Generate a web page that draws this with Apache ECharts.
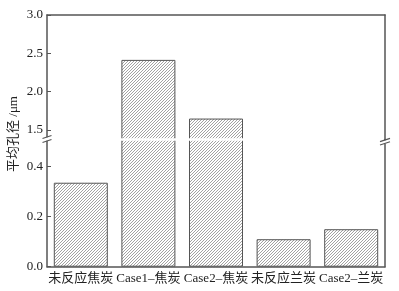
<!DOCTYPE html>
<html>
<head>
<meta charset="utf-8">
<script src="https://cdn.jsdelivr.net/npm/echarts@6/dist/echarts.min.js"></script>
<style>
	html, body { margin: 0; padding: 0; background: #fff; }
	#main { width: 399px; height: 291px; }
</style>
</head>
<body>
<div id="main"></div>
<script>
	// data
	var categories = ['未反应焦炭', 'Case1–焦炭', 'Case2–焦炭', '未反应兰炭', 'Case2–兰炭'];
	var poreSize = [0.336, 2.415, 1.65, 0.11, 0.15];
	var upperTicks = [1.5, 2.0, 2.5, 3.0];
	var lowerTicks = [0, 0.2, 0.4];
	var lowerMax = 0.509;   // top of the lower panel
	var upperMin = 1.377;   // bottom of the upper panel

	var font = '"Liberation Serif", "Noto Sans CJK SC", serif';
	var axisColor = '#555';

	// diagonal hatch tile
	function hatch() {
		var n = 3;
		var c = document.createElement('canvas');
		c.width = n; c.height = n;
		var ctx = c.getContext('2d');
		ctx.fillStyle = '#fff';
		ctx.fillRect(0, 0, n, n);
		ctx.fillStyle = '#a2a2a2';
		for (var i = 0; i < n; i++) {
			ctx.fillRect(i, n - 1 - i, 1, 1);
		}
		return c;
	}
	var pattern = { image: hatch(), repeat: 'repeat' };

	var upperData = poreSize.map(function (v) { return v > lowerMax ? v : '-'; });

	function valueAxis(grid, min, max, ticks) {
		return {
			type: 'value',
			gridIndex: grid,
			min: min,
			max: max,
			splitLine: { show: false },
			axisLine: { show: true, lineStyle: { color: axisColor, width: 1.5 } },
			axisTick: { show: true, inside: true, length: 4, customValues: ticks, lineStyle: { color: axisColor } },
			axisLabel: {
				customValues: ticks,
				color: '#222',
				fontSize: 13,
				fontFamily: font,
				margin: 4,
				formatter: function (v) { return v.toFixed(1); }
			}
		};
	}
	function sideAxis(grid, min, max) {
		return {
			type: 'value',
			gridIndex: grid,
			position: 'right',
			min: min,
			max: max,
			splitLine: { show: false },
			axisLine: { show: true, lineStyle: { color: axisColor, width: 1.5 } },
			axisTick: { show: false },
			axisLabel: { show: false }
		};
	}

	var myChart = echarts.init(document.getElementById('main'));
	var option = {
		backgroundColor: '#fff',
		animation: false,
		grid: [
			{ left: 47, right: 14, top: 15, bottom: 151.5 },
			{ left: 47, right: 14, top: 139.5, bottom: 24.3 }
		],
		xAxis: [
			{
				type: 'category',
				gridIndex: 0,
				position: 'top',
				data: categories,
				axisLine: { show: true, lineStyle: { color: axisColor, width: 1.5 } },
				axisTick: { show: false },
				axisLabel: { show: false }
			},
			{
				type: 'category',
				gridIndex: 1,
				data: categories,
				axisLine: { show: true, lineStyle: { color: axisColor, width: 1.5 } },
				axisTick: { show: false },
				axisLabel: { color: '#222', fontSize: 13, fontFamily: font, margin: 5, interval: 0 }
			}
		],
		yAxis: [
			valueAxis(0, upperMin, 3.0, upperTicks),
			sideAxis(0, upperMin, 3.0),
			valueAxis(1, 0, lowerMax, lowerTicks),
			sideAxis(1, 0, lowerMax)
		],
		series: [
			{
				type: 'bar',
				xAxisIndex: 0,
				yAxisIndex: 0,
				data: upperData,
				barWidth: 54,
				clip: true,
				itemStyle: { color: pattern, borderColor: '#555', borderWidth: 1 }
			},
			{
				type: 'bar',
				xAxisIndex: 1,
				yAxisIndex: 2,
				data: poreSize,
				barWidth: 54,
				clip: true,
				itemStyle: { color: pattern, borderColor: '#555', borderWidth: 1 }
			}
		],
		graphic: [
			// white gap through the bars
			{ type: 'rect', z: 100, shape: { x: 48, y: 138.3, width: 336, height: 2.4 }, style: { fill: '#fff' } },
			// gaps in the side axes
			{ type: 'rect', z: 100, shape: { x: 44, y: 137.3, width: 6, height: 3.4 }, style: { fill: '#fff' } },
			{ type: 'rect', z: 100, shape: { x: 382, y: 140.3, width: 6, height: 3.4 }, style: { fill: '#fff' } },
			// break marks
			{ type: 'line', z: 101, shape: { x1: 42.5, y1: 138.5, x2: 51.5, y2: 135.5 }, style: { stroke: axisColor, lineWidth: 1.2 } },
			{ type: 'line', z: 101, shape: { x1: 42.5, y1: 142.5, x2: 51.5, y2: 139.5 }, style: { stroke: axisColor, lineWidth: 1.2 } },
			{ type: 'line', z: 101, shape: { x1: 380, y1: 141.6, x2: 390, y2: 138.4 }, style: { stroke: axisColor, lineWidth: 1.2 } },
			{ type: 'line', z: 101, shape: { x1: 380, y1: 145, x2: 390, y2: 141.8 }, style: { stroke: axisColor, lineWidth: 1.2 } },
			// y axis name
			{
				type: 'text',
				z: 101,
				x: 14,
				y: 134,
				rotation: Math.PI / 2,
				style: {
					text: '平均孔径 /μm',
					fill: '#222',
					font: '13px ' + font,
					textAlign: 'center',
					textVerticalAlign: 'middle'
				}
			}
		]
	};
	myChart.setOption(option, true);
</script>
</body>
</html>
